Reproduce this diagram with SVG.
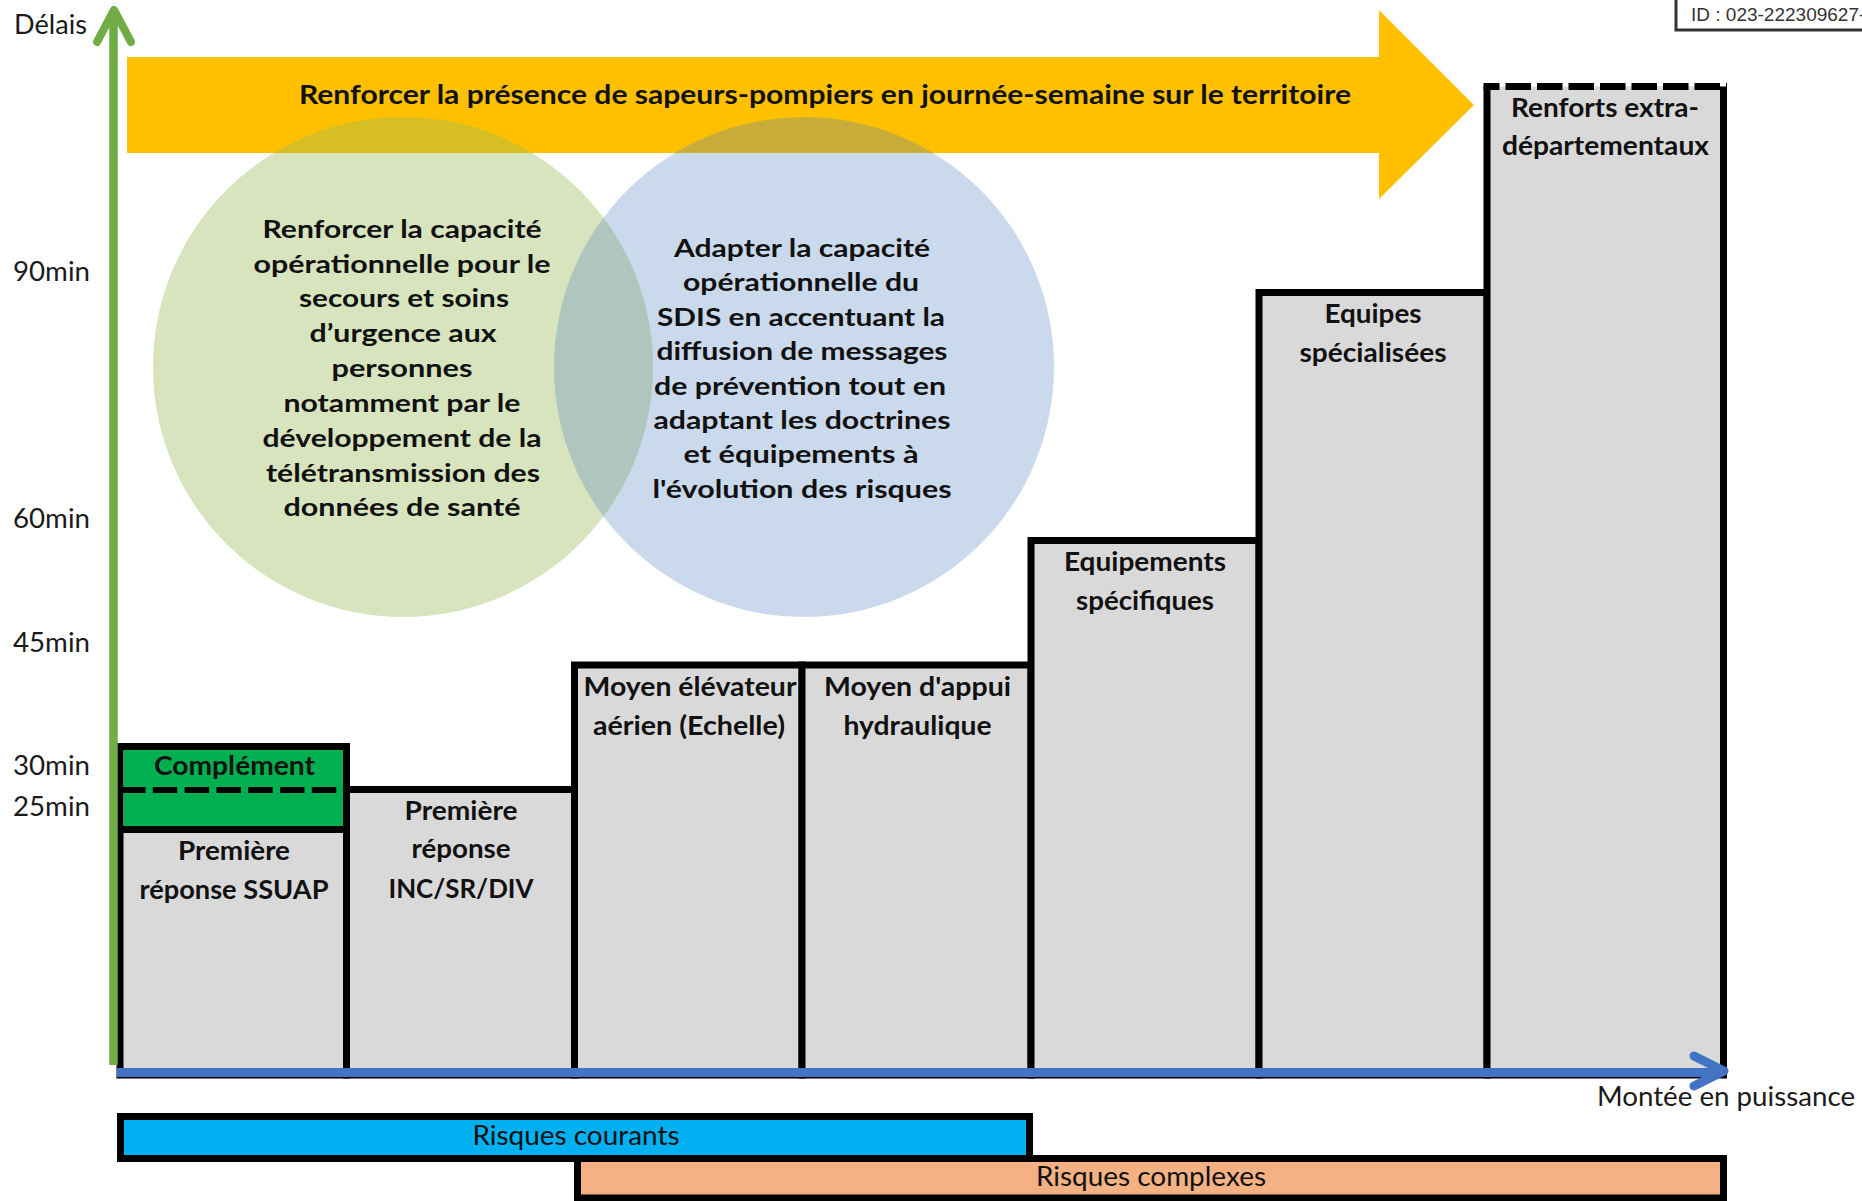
<svg xmlns="http://www.w3.org/2000/svg" width="1862" height="1201" viewBox="0 0 1862 1201">
<style>
.ax{font-family:Lato,'Liberation Sans',sans-serif;font-size:27px;fill:#1a1a1a}
.bl{font-family:Lato,'Liberation Sans',sans-serif;font-size:26.5px;font-weight:bold;fill:#111;text-anchor:middle}
.ct{font-family:Lato,'Liberation Sans',sans-serif;font-size:24px;font-weight:bold;fill:#111;text-anchor:middle}
.rk{font-family:Lato,'Liberation Sans',sans-serif;font-size:26px;fill:#111;text-anchor:middle}
.bar{fill:#D9D9D9;stroke:#000;stroke-width:7}
</style>
<rect width="1862" height="1201" fill="#fff"/>
<g id="id-box">
<rect x="1676" y="-5" width="200" height="35" fill="#fff" stroke="#333" stroke-width="3"/>
<text x="1691" y="21" font-family="'Liberation Sans',Arial,sans-serif" font-size="19" fill="#333">ID : 023-222309627-</text>
</g>
<g id="banner">
<polygon points="127,57 1379,57 1379,10 1474,105 1379,199 1379,153 127,153" fill="#FFC000"/>
</g>
<g id="circle-green">
<circle cx="403" cy="367" r="250" fill="#9BBB59" fill-opacity="0.4"/>
</g>
<g id="circle-blue">
<circle cx="804" cy="367" r="250" fill="#4F81BD" fill-opacity="0.3"/>
</g>
<text class="bl" x="825" y="104" font-size="27" textLength="1052" lengthAdjust="spacingAndGlyphs">Renforcer la présence de sapeurs-pompiers en journée-semaine sur le territoire</text>
<g id="circle-green-text">
<text class="ct" x="402" y="238" textLength="279" lengthAdjust="spacingAndGlyphs">Renforcer la capacité</text>
<text class="ct" x="402" y="273" textLength="297" lengthAdjust="spacingAndGlyphs">opérationnelle pour le</text>
<text class="ct" x="404" y="307" textLength="210" lengthAdjust="spacingAndGlyphs">secours et soins</text>
<text class="ct" x="403" y="342" textLength="187" lengthAdjust="spacingAndGlyphs">d’urgence aux</text>
<text class="ct" x="402" y="377" textLength="141" lengthAdjust="spacingAndGlyphs">personnes</text>
<text class="ct" x="402" y="412" textLength="237" lengthAdjust="spacingAndGlyphs">notamment par le</text>
<text class="ct" x="402" y="447" textLength="279" lengthAdjust="spacingAndGlyphs">développement de la</text>
<text class="ct" x="403" y="482" textLength="274" lengthAdjust="spacingAndGlyphs">télétransmission des</text>
<text class="ct" x="402" y="516" textLength="237" lengthAdjust="spacingAndGlyphs">données de santé</text>
</g>
<g id="circle-blue-text">
<text class="ct" x="802" y="257" textLength="256" lengthAdjust="spacingAndGlyphs">Adapter la capacité</text>
<text class="ct" x="801" y="291" textLength="236" lengthAdjust="spacingAndGlyphs">opérationnelle du</text>
<text class="ct" x="801" y="326" textLength="288" lengthAdjust="spacingAndGlyphs">SDIS en accentuant la</text>
<text class="ct" x="802" y="360" textLength="291" lengthAdjust="spacingAndGlyphs">diffusion de messages</text>
<text class="ct" x="800" y="395" textLength="292" lengthAdjust="spacingAndGlyphs">de prévention tout en</text>
<text class="ct" x="802" y="429" textLength="297" lengthAdjust="spacingAndGlyphs">adaptant les doctrines</text>
<text class="ct" x="801" y="463" textLength="235" lengthAdjust="spacingAndGlyphs">et équipements à</text>
<text class="ct" x="802" y="498" textLength="299" lengthAdjust="spacingAndGlyphs">l'évolution des risques</text>
</g>
<g id="bar-ssuap">
<rect class="bar" x="120" y="746.5" width="226.5" height="328.5"/>
<rect x="123.5" y="750" width="219.5" height="76" fill="#00B050"/>
<line x1="120" y1="829.5" x2="346.5" y2="829.5" stroke="#000" stroke-width="7"/>
<line x1="121" y1="790" x2="343" y2="790" stroke="#000" stroke-width="6" stroke-dasharray="24.5 7.3"/>
<text class="bl" x="234.5" y="775" textLength="161" lengthAdjust="spacingAndGlyphs">Complément</text>
<text class="bl" x="234" y="860" textLength="112" lengthAdjust="spacingAndGlyphs">Première</text>
<text class="bl" x="234" y="899" textLength="189" lengthAdjust="spacingAndGlyphs">réponse SSUAP</text>
</g>
<g id="bar-inc">
<rect class="bar" x="346.5" y="789.5" width="228" height="285.5"/>
<text class="bl" x="461" y="820" textLength="113" lengthAdjust="spacingAndGlyphs">Première</text>
<text class="bl" x="461" y="858" textLength="99" lengthAdjust="spacingAndGlyphs">réponse</text>
<text class="bl" x="461" y="898" textLength="145" lengthAdjust="spacingAndGlyphs">INC/SR/DIV</text>
</g>
<g id="bar-echelle">
<rect class="bar" x="574.5" y="665" width="227.5" height="410"/>
<text class="bl" x="690" y="696" textLength="213" lengthAdjust="spacingAndGlyphs">Moyen élévateur</text>
<text class="bl" x="689" y="735" textLength="192" lengthAdjust="spacingAndGlyphs">aérien (Echelle)</text>
</g>
<g id="bar-appui">
<rect class="bar" x="802" y="665" width="229" height="410"/>
<text class="bl" x="917.5" y="696" textLength="187" lengthAdjust="spacingAndGlyphs">Moyen d'appui</text>
<text class="bl" x="917.5" y="735" textLength="148" lengthAdjust="spacingAndGlyphs">hydraulique</text>
</g>
<g id="bar-equipements">
<rect class="bar" x="1031" y="540.5" width="228" height="534.5"/>
<text class="bl" x="1145" y="571" textLength="162" lengthAdjust="spacingAndGlyphs">Equipements</text>
<text class="bl" x="1145" y="610" textLength="138" lengthAdjust="spacingAndGlyphs">spécifiques</text>
</g>
<g id="bar-equipes">
<rect class="bar" x="1259" y="292.5" width="228" height="782.5"/>
<text class="bl" x="1373" y="323" textLength="97" lengthAdjust="spacingAndGlyphs">Equipes</text>
<text class="bl" x="1373" y="362" textLength="147" lengthAdjust="spacingAndGlyphs">spécialisées</text>
</g>
<g id="bar-renforts">
<rect x="1487" y="86.5" width="236.5" height="988.5" fill="#D9D9D9"/>
<path d="M1487,86.5 V1075 H1723.5 V86.5" fill="none" stroke="#000" stroke-width="7"/>
<line x1="1483.5" y1="86.5" x2="1727" y2="86.5" stroke="#000" stroke-width="7" stroke-dasharray="25.5 6" stroke-dashoffset="9.5"/>
<text class="bl" x="1605" y="117" textLength="188" lengthAdjust="spacingAndGlyphs">Renforts extra-</text>
<text class="bl" x="1605.5" y="155" textLength="207" lengthAdjust="spacingAndGlyphs">départementaux</text>
</g>
<g id="connectors">
<line x1="113.5" y1="1065" x2="113.5" y2="14" stroke="#70AD47" stroke-width="8.5"/>
<polyline points="97,42 114,10 131,42" fill="none" stroke="#70AD47" stroke-width="8" stroke-linecap="round" stroke-linejoin="round"/>
<line x1="117" y1="1072.5" x2="1720" y2="1072.5" stroke="#4472C4" stroke-width="9"/>
<polyline points="1694,1056 1724,1071 1694,1086" fill="none" stroke="#4472C4" stroke-width="9" stroke-linecap="round" stroke-linejoin="round"/>
</g>
<g id="axis-labels">
<text class="ax" x="14" y="34" textLength="73" lengthAdjust="spacingAndGlyphs">Délais</text>
<text class="ax" x="13" y="281" textLength="77" lengthAdjust="spacingAndGlyphs">90min</text>
<text class="ax" x="13" y="528" textLength="77" lengthAdjust="spacingAndGlyphs">60min</text>
<text class="ax" x="13" y="652" textLength="77" lengthAdjust="spacingAndGlyphs">45min</text>
<text class="ax" x="13" y="775" textLength="77" lengthAdjust="spacingAndGlyphs">30min</text>
<text class="ax" x="13" y="816" textLength="77" lengthAdjust="spacingAndGlyphs">25min</text>
<text class="ax" x="1597" y="1106" textLength="258" lengthAdjust="spacingAndGlyphs">Montée en puissance</text>
</g>
<g id="risques-complexes">
<rect x="577.5" y="1158.5" width="1146" height="39.5" fill="#F4B183" stroke="#000" stroke-width="7"/>
<text class="rk" x="1151" y="1186" textLength="230" lengthAdjust="spacingAndGlyphs">Risques complexes</text>
</g>
<g id="risques-courants">
<rect x="120.5" y="1116.5" width="909" height="42" fill="#00B0F0" stroke="#000" stroke-width="7"/>
<text class="rk" x="576" y="1145" textLength="207" lengthAdjust="spacingAndGlyphs">Risques courants</text>
</g>
</svg>
